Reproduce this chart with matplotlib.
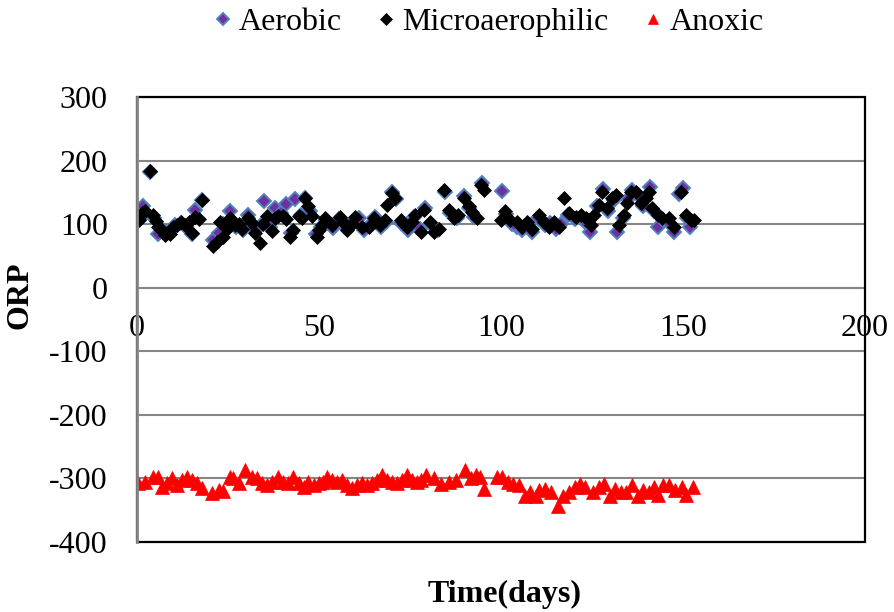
import matplotlib
matplotlib.use("Agg")
import matplotlib.pyplot as plt
from matplotlib.patches import Rectangle

# ORP readings (mV)
micro_days = [0.5, 1.5, 2.2, 3.6, 4.4, 5.3, 5.8, 6.8, 7.7, 9, 10, 10.9, 12, 13.2, 14.2,
              15, 16, 17, 17.8, 21, 22, 22.8, 23.7, 24.7, 25.6, 27, 28, 28.9, 30.6, 31.5,
              32.4, 33.8, 34.7, 35.6, 37, 38, 38.8, 40.2, 41, 42.1, 43, 44.4, 45.3, 46.2,
              47.1, 48, 49.4, 49.9, 50.8, 51.7, 53.5, 55.8, 56.7, 57.6, 59, 60, 61.8, 63.7,
              65, 66.8, 68.2, 68.7, 70.1, 71, 72.4, 73.3, 74.2, 75.5, 76.5, 77.9, 78.8,
              80.6, 81.5, 82.9, 84.3, 85.6, 87, 88.3, 89.8, 91.1, 92.1, 93.4, 94.4, 95.3,
              99.9, 101.2, 102.6, 104.4, 105.8, 107.2, 108.6, 110.4, 111.8, 113.1, 114.5,
              115.9, 117.3, 118.7, 120.5, 121.9, 123.3, 124.6, 125.6, 126.9, 127.8, 129.2,
              130.6, 131.5, 132.4, 133.8, 134.7, 135.6, 137, 138.4, 139.7, 140.7, 141.6,
              143, 144.3, 146.2, 147.5, 149.4, 150.8, 152.1, 153]
micro_orp = [107, 118, 120, 184, 114, 105, 96, 90, 83, 85, 95, 99, 104, 99, 103,
             86, 112, 108, 138, 65, 72, 104, 80, 92, 110, 98, 100, 93, 110, 102,
             86, 70, 100, 113, 89, 110, 113, 113, 108, 80, 91, 113, 110, 141,
             128, 113, 80, 91, 98, 109, 98, 112, 104, 91, 100, 112, 95, 95,
             109, 98, 106, 130, 149, 141, 106, 100, 95, 103, 114, 88, 122,
             103, 88, 93, 154, 122, 109, 114, 141, 128, 119, 109, 162, 154,
             107, 120, 107, 104, 96, 104, 93, 114, 104, 96, 104,
             96, 141, 117, 112, 114, 109, 98, 114, 130, 151, 125,
             141, 146, 98, 114, 133, 151, 151, 133, 141, 151, 125,
             114, 109, 109, 96, 151, 114, 106, 106]

aero_days = [0.5, 1.7, 2.4, 3.6, 4.6, 5.8, 7.0, 8.0, 9.2, 10.5, 12, 13.4, 15.2, 16, 17.8,
             21, 22.4, 23.5, 25.6, 27.2, 29, 30.4, 32.2, 34, 35, 36.6, 38, 39.5, 41, 42.3,
             43.5, 45, 46.2, 47.5, 49.2, 50.5, 52, 53.8, 55.6, 57.5, 59.2, 61, 62.5, 64,
             65.5, 67, 68.5, 70, 71.2, 72.6, 74.4, 76.2, 77.8, 79, 80.8, 82.6, 84.5, 86,
             88, 89.8, 91.2, 92.5, 94.8, 100.3, 101.5, 103, 104.5, 105.8, 107.4, 108.6,
             110.2, 112, 113.5, 115, 116.5, 118.5, 120.2, 122, 123.5, 124.5, 126.5, 128,
             129.5, 131, 132, 133.5, 135, 136, 137.5, 139, 141, 142, 143, 144.5, 146,
             147.5, 149, 150, 151, 152]
aero_orp = [112, 128, 118, 182, 110, 84, 92, 84, 88, 98, 102, 96, 84, 122, 138,
            75, 86, 100, 120, 96, 90, 114, 92, 98, 136, 96, 126, 118, 131, 86,
            139, 114, 141, 120, 84, 96, 106, 94, 108, 94, 104, 110, 90, 98,
            112, 96, 104, 151, 140, 102, 90, 112, 92, 125, 100, 90, 150, 118,
            110, 144, 126, 112, 164, 152, 116, 100, 96, 90, 100, 88,
            110, 98, 102, 92, 100, 114, 108, 110, 100, 88, 128, 156,
            120, 138, 88, 110, 140, 154, 146, 128, 159, 120, 96, 106, 104,
            88, 148, 157, 110, 96]

anox_days = [0.4, 2.2, 4.5, 5.9, 6.8, 8.2, 9.5, 10.9, 12.3, 13.7, 15, 16.4, 17.8, 20.5,
             22.4, 23.7, 25.6, 26.4, 27.9, 29.7, 31.5, 32.9, 34.3, 35.6, 37, 38.8, 40.2,
             41.6, 43, 44.4, 45.8, 47.1, 48.5, 49.9, 51.2, 52.1, 53.5, 54.9, 56.2, 57.6,
             59, 60.4, 61.8, 63.1, 64.5, 65.9, 67.3, 68.7, 70, 71.4, 72.8, 74.2, 75.5,
             76.9, 78, 79.5, 81.5, 83.6, 85.6, 87.6, 90.2, 91.7, 93.2, 94.3, 95.3, 99,
             100.4, 101.9, 103.4, 104.9, 106.5, 108, 109.5, 110.5, 112.1, 113.6, 115.6,
             117.1, 118.7, 120.2, 121.7, 123.2, 125.3, 126.8, 128.4, 129.9, 131.4, 132.9,
             134.4, 136, 137.5, 139, 140.6, 142.1, 143.1, 144.6, 146.2, 147.7, 149.7,
             150.7, 152.8]
anox_orp = [-307, -305, -297, -297, -313, -307, -299, -310, -302, -297, -302, -307, -315, -323,
            -318, -320, -297, -299, -307, -286, -297, -299, -307, -310, -305, -297, -305,
            -307, -297, -307, -313, -305, -310, -307, -305, -297, -302, -305, -302, -310,
            -315, -310, -307, -310, -307, -302, -294, -302, -305, -307, -302, -294, -302,
            -305, -302, -294, -300, -308, -305, -303, -287, -300, -295, -297, -316, -297,
            -297, -305, -308, -311, -328, -321, -328, -319, -316, -321, -343,
            -328, -321, -313, -308, -313, -321, -313, -308, -328, -316, -321,
            -321, -311, -328, -319, -321, -313, -326, -311, -311, -319, -313,
            -326, -313]

x_ticks = [0, 50, 100, 150, 200]
y_ticks = [-400, -300, -200, -100, 0, 100, 200, 300]

GRAY = "#868686"

plt.rcParams["font.family"] = ["Liberation Serif", "DejaVu Serif"]
plt.rcParams["axes.unicode_minus"] = False

fig = plt.figure(figsize=(8.94, 6.12), dpi=100)
ax = fig.add_axes([0.1532, 0.1144, 0.9676 - 0.1532, 0.8415 - 0.1144])

ax.plot(aero_days, aero_orp, linestyle="none", marker="D", markersize=7.5,
        markerfacecolor="#7030A0", markeredgecolor="#4F81BD", markeredgewidth=1.4,
        label="Aerobic", zorder=3)
ax.plot(micro_days, micro_orp, linestyle="none", marker="D", markersize=7.5,
        markerfacecolor="black", markeredgecolor="black", markeredgewidth=0.5,
        label="Microaerophilic", zorder=4)
ax.plot(anox_days, anox_orp, linestyle="none", marker="^", markersize=10,
        markerfacecolor="#FF0000", markeredgecolor="#FF0000", markeredgewidth=0.5,
        label="Anoxic", zorder=5)

ax.set_xlim(0, 200)
ax.set_ylim(-400, 300)
ax.set_xticks(x_ticks)
ax.set_yticks(y_ticks)
ax.tick_params(axis="both", length=0, labelsize=23)
ax.tick_params(axis="x", pad=19)
ax.tick_params(axis="y", pad=21)

ax.yaxis.grid(True, color=GRAY, linewidth=1.5)
ax.set_axisbelow(True)

# Excel style: x axis crosses at 0, black frame round the plot area
for side in ["top", "right"]:
    ax.spines[side].set_visible(False)
ax.spines["bottom"].set_position(("data", 0))
ax.spines["bottom"].set_color(GRAY)
ax.spines["bottom"].set_linewidth(1.5)
ax.spines["left"].set_color(GRAY)
ax.spines["left"].set_linewidth(2)
ax.spines["left"].set_zorder(6)
ax.add_patch(Rectangle((0, 0), 1, 1, transform=ax.transAxes, fill=False,
                       edgecolor="black", linewidth=1.6, clip_on=False, zorder=5.5))

fig.text(20 / 894, 1 - 295 / 612, "ORP", rotation=90, fontsize=23, fontweight="bold",
         ha="center", va="center")
fig.text(505 / 894, 1 - 594 / 612, "Time(days)", fontsize=23, fontweight="bold",
         ha="center", va="center")

fig.legend(loc="center", bbox_to_anchor=(0.547, 0.964), ncol=3, frameon=False,
           fontsize=23, handlelength=0.5, handletextpad=0.25, columnspacing=1.15,
           borderaxespad=0, markerscale=0.75)

fig.savefig("out.png", dpi=100)
